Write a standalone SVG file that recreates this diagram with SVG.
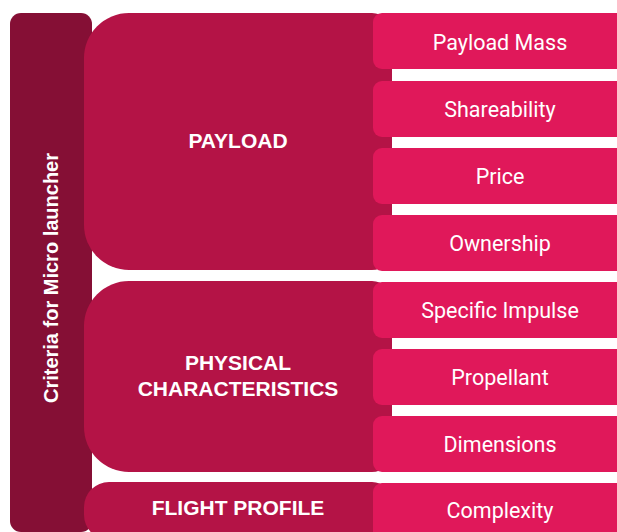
<svg xmlns="http://www.w3.org/2000/svg" width="617" height="532" viewBox="0 0 617 532">
<style>
.bar{fill:#850f35}
.grp{fill:#b41346}
.box{fill:#e0185a}
.h{font-family:"Liberation Sans",Arial,sans-serif;font-weight:bold;fill:#fff;text-anchor:middle}
.t{font-family:Roboto,"Liberation Sans",sans-serif;font-size:21.5px;fill:#fff;text-anchor:middle}
</style>
<rect width="617" height="532" fill="#fff"/>
<g id="criteria">
<rect class="bar" x="10" y="13" width="82" height="519" rx="11"/>
<text class="h" font-size="20" transform="translate(58,278) rotate(-90)">Criteria for Micro launcher</text>
</g>
<g id="payload">
<path class="grp" d="M129,13 H372 A20,20 0 0 1 392,33 V250 A20,20 0 0 1 372,270 H129 A45,45 0 0 1 84,225 V58 A45,45 0 0 1 129,13 Z"/>
<text class="h" font-size="21" x="238" y="148">PAYLOAD</text>
</g>
<g id="physical">
<path class="grp" d="M129,281 H372 A20,20 0 0 1 392,301 V452 A20,20 0 0 1 372,472 H129 A45,45 0 0 1 84,427 V326 A45,45 0 0 1 129,281 Z"/>
<text class="h" font-size="21" x="238" y="370">PHYSICAL</text>
<text class="h" font-size="21" x="238" y="396">CHARACTERISTICS</text>
</g>
<g id="flight">
<path class="grp" d="M109,482 H372 A20,20 0 0 1 392,502 V540 H109 A25,25 0 0 1 84,515 V507 A25,25 0 0 1 109,482 Z"/>
<text class="h" font-size="21" x="238" y="515">FLIGHT PROFILE</text>
</g>
<g id="payload-mass"><rect class="box" x="373" y="13" width="260" height="56" rx="9"/><text class="t" x="500" y="50">Payload Mass</text></g>
<g id="shareability"><rect class="box" x="373" y="81" width="260" height="56" rx="9"/><text class="t" x="500" y="117">Shareability</text></g>
<g id="price"><rect class="box" x="373" y="148" width="260" height="56" rx="9"/><text class="t" x="500" y="184">Price</text></g>
<g id="ownership"><rect class="box" x="373" y="215" width="260" height="56" rx="9"/><text class="t" x="500" y="251">Ownership</text></g>
<g id="specific-impulse"><rect class="box" x="373" y="282" width="260" height="56" rx="9"/><text class="t" x="500" y="318">Specific Impulse</text></g>
<g id="propellant"><rect class="box" x="373" y="349" width="260" height="56" rx="9"/><text class="t" x="500" y="385">Propellant</text></g>
<g id="dimensions"><rect class="box" x="373" y="416" width="260" height="56" rx="9"/><text class="t" x="500" y="452">Dimensions</text></g>
<g id="complexity"><rect class="box" x="373" y="483" width="260" height="60" rx="9"/><text class="t" x="500" y="518">Complexity</text></g>
<g id="connectors"></g>
</svg>
